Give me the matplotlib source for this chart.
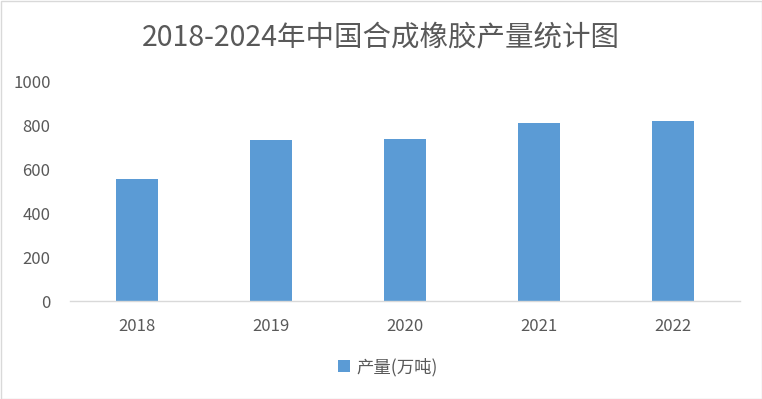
import matplotlib
matplotlib.use("Agg")
import matplotlib.pyplot as plt
from matplotlib.patches import Rectangle

plt.rcParams['font.family'] = ['Noto Sans CJK SC', 'DejaVu Sans']

categories = ["2018", "2019", "2020", "2021", "2022"]
values = [554, 732, 737, 810, 820]
yticks = [0, 200, 400, 600, 800, 1000]
title = "2018-2024年中国合成橡胶产量统计图"
series_name = "产量(万吨)"

bar_color = "#5B9BD5"
text_color = "#595959"
line_color = "#D9D9D9"

fig = plt.figure(figsize=(7.62, 3.99), dpi=100)
ax = fig.add_axes([70/762, 1-301/399, 670/762, 220/399])

x = list(range(len(categories)))
ax.bar(x, values, width=0.31, color=bar_color, label=series_name, zorder=2)
ax.set_xlim(-0.5, len(categories) - 0.5)
ax.set_ylim(0, 1000)
ax.set_yticks(yticks)
ax.set_yticklabels([str(v) for v in yticks])
ax.set_xticks(x)
ax.set_xticklabels(categories)

for s in ["top", "right", "left"]:
    ax.spines[s].set_visible(False)
ax.spines["bottom"].set_color(line_color)
ax.spines["bottom"].set_linewidth(1)
ax.tick_params(axis="both", length=0, colors=text_color, labelsize=12)
ax.tick_params(axis="x", pad=12)
ax.tick_params(axis="y", pad=14)

fig.text(0.5, 1-37/399, title, ha="center", va="center", fontsize=20.5, color=text_color,
         fontweight="light")

leg = fig.legend(loc="center", bbox_to_anchor=(388/762, 1-367/399), frameon=False,
                 fontsize=12.5, handlelength=0.7, handleheight=0.7, handletextpad=0.4)
for t in leg.get_texts():
    t.set_color(text_color)

fig.patches.append(Rectangle((0.5/762, 0.5/399), 1-1/762, 1-1/399, transform=fig.transFigure,
                             fill=False, edgecolor=line_color, linewidth=1))

fig.savefig("out.png", dpi=100)
